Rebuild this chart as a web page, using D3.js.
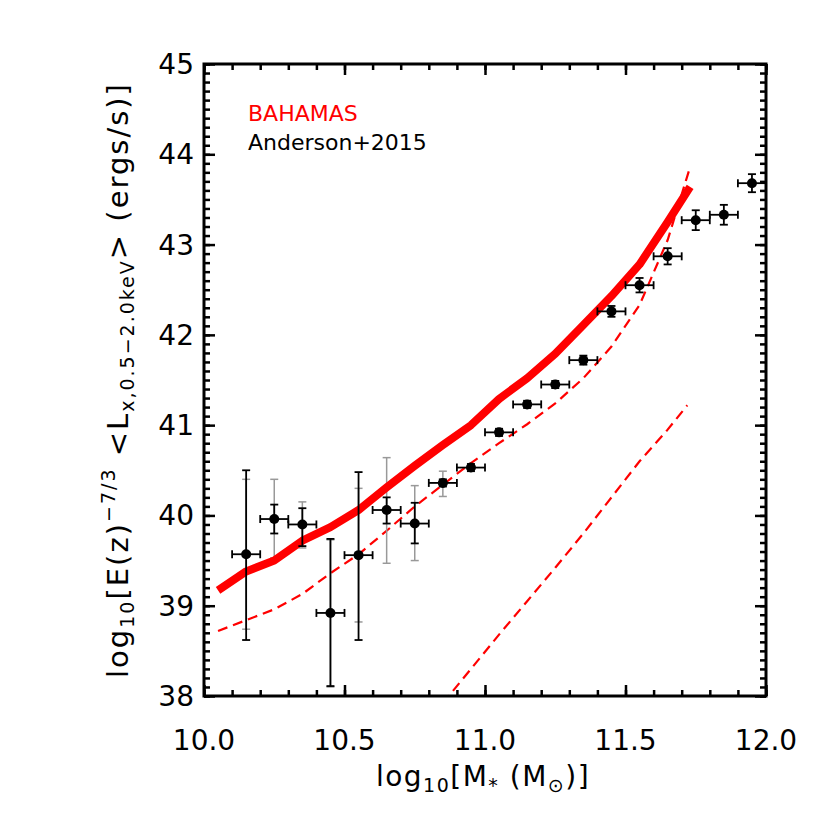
<!DOCTYPE html>
<html>
<head>
<meta charset="utf-8">
<script src="https://cdn.jsdelivr.net/npm/d3@7"></script>
<style>
  body { margin: 0; background: #fff; }
  text { font-family: "DejaVu Sans", "Liberation Sans", sans-serif; }
</style>
</head>
<body>
<div id="chart"></div>
<script>
// Anderson+2015 stacked points
const obsMass = [10.15, 10.25, 10.35, 10.45, 10.55, 10.65, 10.75, 10.85, 10.95, 11.05, 11.15, 11.25, 11.35, 11.45, 11.55, 11.65, 11.75, 11.85, 11.95]
const obsLx = [39.57, 39.96, 39.90, 38.92, 39.56, 40.06, 39.91, 40.36, 40.53, 40.92, 41.23, 41.45, 41.72, 42.26, 42.55, 42.87, 43.27, 43.33, 43.68]
// black error bars (upper, lower)
const errHi = [40.50, 40.12, 40.08, 39.74, 40.48, 40.20, 40.14, 40.40, 40.57, 40.96, 41.27, 41.49, 41.77, 42.32, 42.63, 42.96, 43.38, 43.44, 43.78]
const errLo = [38.62, 39.80, 39.66, 38.11, 38.62, 39.91, 39.69, 40.32, 40.49, 40.88, 41.19, 41.41, 41.67, 42.20, 42.47, 42.78, 43.16, 43.22, 43.58]
// grey error bars
const greyHi = [40.40, 40.40, 40.15, 39.73, 40.30, 40.64, 40.33, 40.49]
const greyLo = [38.74, 39.53, 39.64, 38.10, 38.82, 39.47, 39.50, 40.21]
const binHalf = 0.05

// BAHAMAS median (thick) and percentile bands (dashed)
const simMass = [10.05, 10.15, 10.25, 10.35, 10.45, 10.55, 10.65, 10.75, 10.85, 10.95, 11.05, 11.15, 11.25, 11.35, 11.45, 11.55, 11.65, 11.73]
const simMedian = [39.17, 39.38, 39.50, 39.72, 39.87, 40.06, 40.31, 40.55, 40.78, 41.00, 41.29, 41.52, 41.79, 42.11, 42.43, 42.78, 43.25, 43.64]
const simUpper = [38.72, 38.84, 38.96, 39.13, 39.36, 39.57, 39.83, 40.10, 40.34, 40.58, 40.80, 41.01, 41.24, 41.52, 41.87, 42.33, 43.05, 43.86]
const lowMass = [10.85, 10.95, 11.05, 11.15, 11.25, 11.35, 11.45, 11.55, 11.65, 11.72]
const simLower = [37.92, 38.30, 38.68, 39.05, 39.42, 39.80, 40.20, 40.60, 40.95, 41.22]

const xTicks = [10.0, 10.5, 11.0, 11.5, 12.0]
const yTicks = [38, 39, 40, 41, 42, 43, 44, 45]

const W = 826, H = 826
const mLeft = 204, mRight = 766, mTop = 64, mBottom = 696

const svg = d3.select('#chart').append('svg')
  .attr('width', W).attr('height', H)

const x = d3.scaleLinear().domain([10, 12]).range([mLeft, mRight])
const y = d3.scaleLinear().domain([38, 45]).range([mBottom, mTop])

svg.append('defs').append('clipPath').attr('id', 'plotclip')
  .append('rect').attr('x', mLeft).attr('y', mTop)
  .attr('width', mRight - mLeft).attr('height', mBottom - mTop)

const plot = svg.append('g').attr('clip-path', 'url(#plotclip)')

// curves
const line = d3.line().x(d => x(d[0])).y(d => y(d[1]))

plot.append('path')
  .attr('d', line(d3.zip(simMass, simUpper)))
  .attr('fill', 'none').attr('stroke', '#ff0000')
  .attr('stroke-width', 2.2).attr('stroke-dasharray', '10,6')

plot.append('path')
  .attr('d', line(d3.zip(lowMass, simLower)))
  .attr('fill', 'none').attr('stroke', '#ff0000')
  .attr('stroke-width', 2.2).attr('stroke-dasharray', '10,6')

// grey error bars
const gi = d3.range(greyHi.length)
plot.selectAll('line.gbar').data(gi).enter().append('line')
  .attr('x1', i => x(obsMass[i])).attr('x2', i => x(obsMass[i]))
  .attr('y1', i => y(greyHi[i])).attr('y2', i => y(greyLo[i]))
  .attr('stroke', '#999').attr('stroke-width', 1.5)
gi.forEach(i => {
  [greyHi[i], greyLo[i]].forEach(v => {
    plot.append('line')
      .attr('x1', x(obsMass[i]) - 4).attr('x2', x(obsMass[i]) + 4)
      .attr('y1', y(v)).attr('y2', y(v))
      .attr('stroke', '#999').attr('stroke-width', 1.5)
  })
})

plot.append('path')
  .attr('d', line(d3.zip(simMass, simMedian)))
  .attr('fill', 'none').attr('stroke', '#ff0000')
  .attr('stroke-width', 8).attr('stroke-linejoin', 'round')

// black error bars
const idx = d3.range(obsMass.length)
const bars = plot.append('g').attr('stroke', '#000').attr('stroke-width', 1.8)
idx.forEach(i => {
  let cx = x(obsMass[i]), cy = y(obsLx[i])
  bars.append('line').attr('x1', cx).attr('x2', cx).attr('y1', y(errHi[i])).attr('y2', y(errLo[i]))
  ;[errHi[i], errLo[i]].forEach(v => {
    bars.append('line').attr('x1', cx - 4).attr('x2', cx + 4).attr('y1', y(v)).attr('y2', y(v))
  })
  let xl = x(obsMass[i] - binHalf), xr = x(obsMass[i] + binHalf)
  bars.append('line').attr('x1', xl).attr('x2', xr).attr('y1', cy).attr('y2', cy)
  bars.append('line').attr('x1', xl).attr('x2', xl).attr('y1', cy - 4).attr('y2', cy + 4)
  bars.append('line').attr('x1', xr).attr('x2', xr).attr('y1', cy - 4).attr('y2', cy + 4)
})

plot.selectAll('circle.pt').data(idx).enter().append('circle')
  .attr('cx', i => x(obsMass[i])).attr('cy', i => y(obsLx[i]))
  .attr('r', 5).attr('fill', '#000')

// axes: ticks point inward on all four sides
const xMinor = d3.range(10, 12.001, 0.1)
const yMinor = d3.range(38, 45.001, 0.1)
function styleAxis(g) {
  g.select('.domain').remove()
  g.selectAll('.tick line').attr('stroke', '#000').attr('stroke-width', 2.5)
  g.selectAll('.tick text').remove()
}
svg.append('g').attr('transform', `translate(0,${mBottom})`)
  .call(d3.axisBottom(x).tickValues(xMinor).tickSize(-6)).call(styleAxis)
svg.append('g').attr('transform', `translate(0,${mBottom})`)
  .call(d3.axisBottom(x).tickValues(xTicks).tickSize(-11)).call(styleAxis)
svg.append('g').attr('transform', `translate(0,${mTop})`)
  .call(d3.axisTop(x).tickValues(xMinor).tickSize(-6)).call(styleAxis)
svg.append('g').attr('transform', `translate(0,${mTop})`)
  .call(d3.axisTop(x).tickValues(xTicks).tickSize(-11)).call(styleAxis)
svg.append('g').attr('transform', `translate(${mLeft},0)`)
  .call(d3.axisLeft(y).tickValues(yMinor).tickSize(-6)).call(styleAxis)
svg.append('g').attr('transform', `translate(${mLeft},0)`)
  .call(d3.axisLeft(y).tickValues(yTicks).tickSize(-11)).call(styleAxis)
svg.append('g').attr('transform', `translate(${mRight},0)`)
  .call(d3.axisRight(y).tickValues(yMinor).tickSize(-6)).call(styleAxis)
svg.append('g').attr('transform', `translate(${mRight},0)`)
  .call(d3.axisRight(y).tickValues(yTicks).tickSize(-11)).call(styleAxis)

svg.append('rect')
  .attr('x', mLeft).attr('y', mTop).attr('width', mRight - mLeft).attr('height', mBottom - mTop)
  .attr('fill', 'none').attr('stroke', '#000').attr('stroke-width', 3)

// tick labels
svg.selectAll('text.xt').data(xTicks).enter().append('text')
  .attr('x', d => x(d)).attr('y', mBottom + 54)
  .attr('text-anchor', 'middle').attr('font-size', 28)
  .text(d => d.toFixed(1))
svg.selectAll('text.yt').data(yTicks).enter().append('text')
  .attr('x', mLeft - 10).attr('y', d => y(d) + 10)
  .attr('text-anchor', 'end').attr('font-size', 28)
  .text(d => d)

// axis titles
let xt = svg.append('text').attr('x', 483).attr('y', 786)
  .attr('text-anchor', 'middle').attr('font-size', 28)
  .attr('letter-spacing', 1.5)
xt.append('tspan').text('log')
xt.append('tspan').attr('font-size', 19).attr('dy', 6).text('10')
xt.append('tspan').attr('dy', -6).text('[M')
xt.append('tspan').attr('font-size', 19).attr('dy', 6).text('*')
xt.append('tspan').attr('dy', -6).text('  (M')
xt.append('tspan').attr('font-size', 19).attr('dy', 6).text('⊙')
xt.append('tspan').attr('dy', -6).text(')]')

let yt = svg.append('text')
  .attr('transform', 'translate(128,380) rotate(-90)')
  .attr('text-anchor', 'middle').attr('font-size', 29)
  .attr('letter-spacing', 2)
yt.append('tspan').text('log')
yt.append('tspan').attr('font-size', 19).attr('dy', 6).text('10')
yt.append('tspan').attr('dy', -6).text('[E(z)')
yt.append('tspan').attr('font-size', 19).attr('dy', -13).text('−7/3')
yt.append('tspan').attr('dy', 13).text('  <L')
yt.append('tspan').attr('font-size', 19).attr('dy', 6).text('x,0.5−2.0keV')
yt.append('tspan').attr('dy', -6).text('>  (ergs/s)]')

// legend
svg.append('text').attr('x', 248).attr('y', 121).attr('font-size', 22)
  .attr('fill', '#ff0000').text('BAHAMAS')
svg.append('text').attr('x', 248).attr('y', 150).attr('font-size', 22)
  .attr('fill', '#000').text('Anderson+2015')
</script>
</body>
</html>
